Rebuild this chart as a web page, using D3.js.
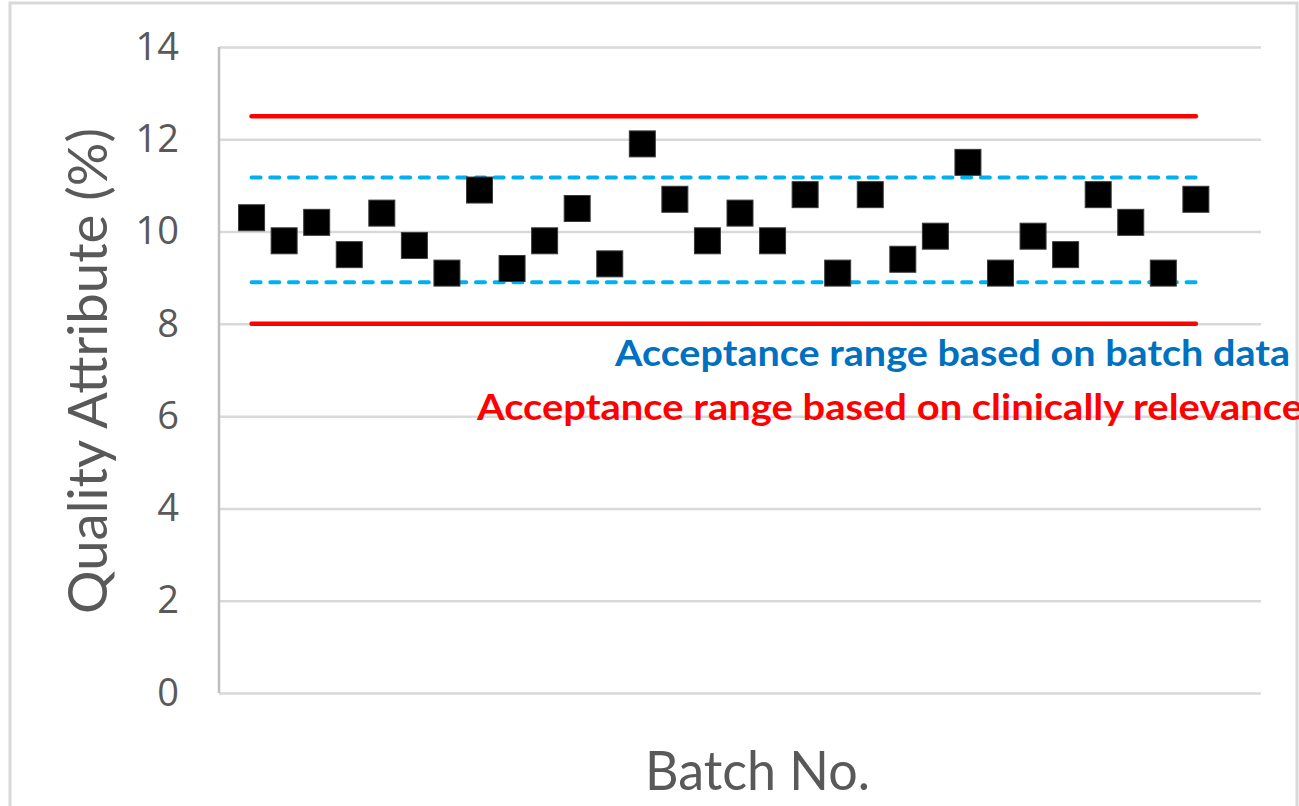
<!DOCTYPE html>
<html>
<head>
<meta charset="utf-8">
<script src="https://cdn.jsdelivr.net/npm/d3@7/dist/d3.min.js"></script>
<style>
  html, body { margin: 0; padding: 0; background: #fff; }
  svg { display: block; }
</style>
</head>
<body>
<svg id="chart" width="1299" height="806"></svg>
<script>
// ---- Data ----
const batches = d3.range(1, 31);
const values = [10.3, 9.8, 10.2, 9.5, 10.4, 9.7, 9.1, 10.9, 9.2, 9.8,
                10.5, 9.3, 11.9, 10.7, 9.8, 10.4, 9.8, 10.8, 9.1, 10.8,
                9.4, 9.9, 11.5, 9.1, 9.9, 9.5, 10.8, 10.2, 9.1, 10.7];
const clinicalLimits = [8.0, 12.5];
const batchLimits = [8.9, 11.17];
const yTicks = [0, 2, 4, 6, 8, 10, 12, 14];
const xDomain = [0, 32];
const yDomain = [0, 14];
const yTitle = "Quality Attribute (%)";
const xTitle = "Batch No.";
const labelBatch = "Acceptance range based on batch data";
const labelClinical = "Acceptance range based on clinically relevance";

(function () {
// ---- Layout ----
const svg = d3.select("#chart");
const pLeft = 219, pRight = 1261, pTop = 47, pBottom = 693;
const x = d3.scaleLinear().domain(xDomain).range([pLeft, pRight]);
const y = d3.scaleLinear().domain(yDomain).range([pBottom, pTop]);

// outer border
svg.append("rect").attr("x", 10).attr("y", 3).attr("width", 1287).attr("height", 820)
  .attr("fill", "none").attr("stroke", "#d9d9d9").attr("stroke-width", 3);

// gridlines + tick labels
const yAxis = d3.axisLeft(y).tickValues(yTicks).tickSize(-(pRight - pLeft)).tickPadding(40).tickFormat(d3.format("d"));
const gY = svg.append("g").attr("transform", `translate(${pLeft},0)`).call(yAxis);
gY.select(".domain").remove();
gY.selectAll(".tick line").attr("stroke", "#d9d9d9").attr("stroke-width", 2.5);
gY.selectAll(".tick text")
  .attr("fill", "#595959")
  .attr("font-family", "'Open Sans', sans-serif")
  .attr("font-size", 38);

// left axis line
svg.append("line").attr("x1", pLeft).attr("x2", pLeft).attr("y1", pTop).attr("y2", pBottom)
  .attr("stroke", "#bfbfbf").attr("stroke-width", 2.5);

// limit lines
const xs = d3.extent(batches);
const lineGen = d3.line().x(d => x(d[0])).y(d => y(d[1]));
clinicalLimits.forEach(v => {
  svg.append("path").datum([[xs[0], v], [xs[1], v]])
    .attr("d", lineGen).attr("stroke", "#ff0000").attr("stroke-width", 4.5)
    .attr("stroke-linecap", "round").attr("fill", "none");
});
batchLimits.forEach(v => {
  svg.append("path").datum([[xs[0], v], [xs[1], v]])
    .attr("d", lineGen).attr("stroke", "#00b0f0").attr("stroke-width", 4)
    .attr("stroke-linecap", "round").attr("stroke-dasharray", "9,9.7").attr("fill", "none");
});

// markers
const ms = 26;
svg.append("g").selectAll("rect").data(batches).join("rect")
  .attr("x", d => x(d) - ms / 2)
  .attr("y", (d, i) => y(values[i]) - ms / 2)
  .attr("width", ms).attr("height", ms)
  .attr("fill", "#000").attr("stroke", "#3a3a3a").attr("stroke-width", 1);

// axis titles
svg.append("text")
  .attr("transform", `translate(107,371) rotate(-90)`)
  .attr("text-anchor", "middle")
  .attr("fill", "#595959")
  .attr("font-family", "Lato, 'Open Sans', sans-serif")
  .attr("font-size", 55)
  .attr("textLength", 486).attr("lengthAdjust", "spacingAndGlyphs")
  .text(yTitle);

svg.append("text")
  .attr("x", 645).attr("y", 790)
  .attr("fill", "#595959")
  .attr("font-family", "Lato, 'Open Sans', sans-serif")
  .attr("font-size", 55)
  .attr("textLength", 225).attr("lengthAdjust", "spacingAndGlyphs")
  .text(xTitle);

// annotations
svg.append("text")
  .attr("x", 615).attr("y", 366)
  .attr("fill", "#0070c0")
  .attr("font-family", "Lato, 'Open Sans', sans-serif")
  .attr("font-weight", "bold")
  .attr("font-size", 36)
  .attr("textLength", 675).attr("lengthAdjust", "spacingAndGlyphs")
  .text(labelBatch);

svg.append("text")
  .attr("x", 477).attr("y", 420)
  .attr("fill", "#ff0000")
  .attr("font-family", "Lato, 'Open Sans', sans-serif")
  .attr("font-weight", "bold")
  .attr("font-size", 36)
  .attr("textLength", 826).attr("lengthAdjust", "spacingAndGlyphs")
  .text(labelClinical);
})();
</script>
</body>
</html>
